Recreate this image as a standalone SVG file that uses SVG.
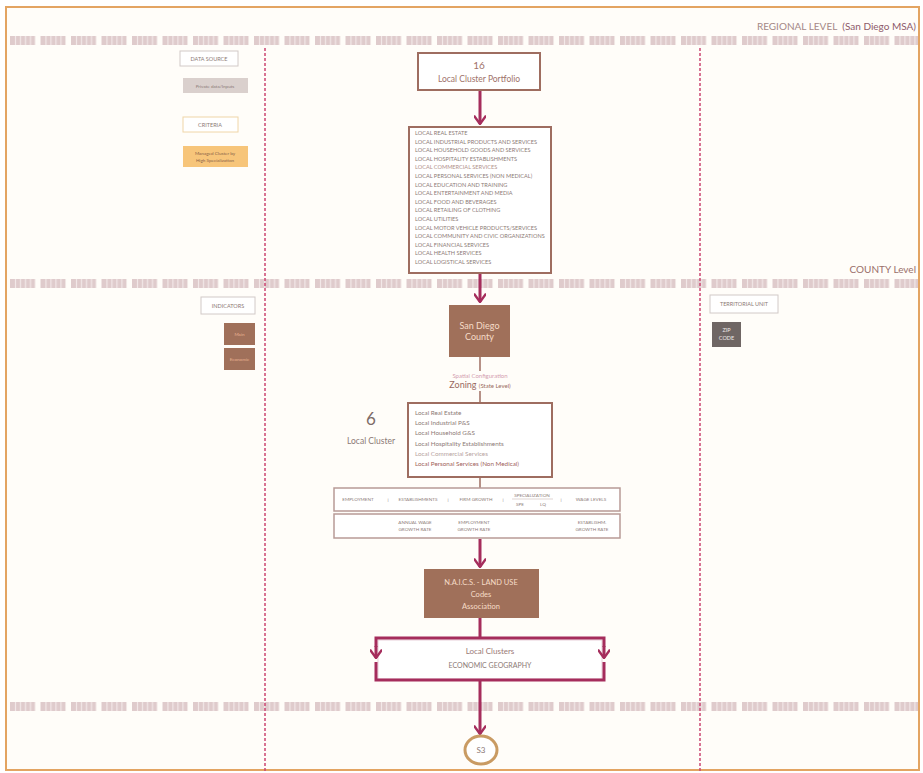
<svg xmlns="http://www.w3.org/2000/svg" width="923" height="773" viewBox="0 0 923 773">
<style>
text{font-family:Lato,"Liberation Sans",sans-serif;}
.lvl{font-size:10px;}
.tiny{font-size:4.6px;}
.lst{font-size:5.6px;fill:#8c7a76;}
.lst2{font-size:6.3px;fill:#8c7a76;}
.lgd{font-size:5.5px;fill:#8c7a76;}
.g{fill:#8c7a76;}
.wbox{fill:#fff;stroke:#d2cac8;stroke-width:1;}
.bbox{fill:#fff;stroke:#9e6d60;stroke-width:2;}
.brown{fill:#a0705a;}
.pe{fill:#f6dcc8;}
.vdash{stroke:#cc4672;stroke-width:1.5;stroke-dasharray:3 2;fill:none;}
.flow{stroke:#a52d5c;stroke-width:3;fill:none;}
.thin{stroke:#9e6d60;stroke-width:1.5;fill:none;}
</style>
<defs>
<pattern id="band" x="10" y="0" width="30.5" height="10" patternUnits="userSpaceOnUse">
<rect x="0" y="0" width="25" height="10" fill="#dfcbcc"/>
<rect x="5" y="0" width="1" height="10" fill="#f6eeee"/>
<rect x="10" y="0" width="1" height="10" fill="#f6eeee"/>
<rect x="15" y="0" width="1" height="10" fill="#f6eeee"/>
<rect x="20" y="0" width="1" height="10" fill="#f6eeee"/>
</pattern>
<marker id="ah" viewBox="0 0 10 10" refX="9" refY="5" markerWidth="4" markerHeight="4" orient="auto" markerUnits="strokeWidth">
<path d="M2,0 L9,5 L2,10" fill="none" stroke="#a52d5c" stroke-width="2"/>
</marker>
</defs>
<rect x="0" y="0" width="923" height="773" fill="#fff"/>
<rect x="6" y="7" width="913" height="763" fill="#fffdf9" stroke="#e3a462" stroke-width="2"/>

<g id="bands">
<rect x="10" y="36" width="908" height="9" fill="url(#band)"/>
<rect x="10" y="279" width="908" height="9" fill="url(#band)"/>
<rect x="10" y="702" width="908" height="9" fill="url(#band)"/>
</g>
<g id="levels">
<text class="lvl" x="916" y="30" text-anchor="end"><tspan fill="#a48886">REGIONAL LEVEL</tspan><tspan dx="5" fill="#8e5a6a">(San Diego MSA)</tspan></text>
<text class="lvl" x="916" y="273" text-anchor="end" style="fill:#9a6f6a">COUNTY Level</text>
</g>
<g id="dividers">
<line class="vdash" x1="265" y1="48" x2="265" y2="773"/>
<line class="vdash" x1="700" y1="48" x2="700" y2="773"/>
</g>

<g id="legend-datasource">
<rect class="wbox" x="180" y="51" width="58" height="15"/>
<text class="lgd" x="209" y="61" text-anchor="middle">DATA SOURCE</text>
</g>
<g id="legend-private">
<rect x="183" y="78" width="65" height="15" fill="#dad0cd"/>
<text class="tiny" x="215" y="87.5" text-anchor="middle" style="fill:#8a7a78">Private data/Inputs</text>
</g>
<g id="legend-criteria">
<rect x="183" y="117" width="55" height="15" fill="#fff" stroke="#f0d6a8" stroke-width="1"/>
<text class="lgd" x="210" y="127" text-anchor="middle">CRITERIA</text>
</g>
<g id="legend-managed">
<rect x="183" y="146" width="65" height="21" fill="#f7c57a"/>
<text class="tiny" x="215" y="155" text-anchor="middle" style="fill:#8a6248">Managed Cluster by</text>
<text class="tiny" x="215" y="162" text-anchor="middle" style="fill:#8a6248">High Specialization</text>
</g>
<g id="legend-indicators">
<rect class="wbox" x="201" y="297" width="54" height="17"/>
<text class="lgd" x="228" y="308" text-anchor="middle">INDICATORS</text>
</g>
<g id="legend-main">
<rect class="brown" x="224" y="323" width="31" height="22"/>
<text class="tiny" x="239.5" y="336" text-anchor="middle" style="fill:#eab092">Main</text>
</g>
<g id="legend-economic">
<rect class="brown" x="224" y="348" width="31" height="22"/>
<text class="tiny" x="239.5" y="361" text-anchor="middle" style="fill:#eab092">Economic</text>
</g>
<g id="legend-territorial">
<rect class="wbox" x="710" y="295" width="68" height="18"/>
<text class="lgd" x="744" y="306" text-anchor="middle">TERRITORIAL UNIT</text>
</g>
<g id="legend-zip">
<rect x="712" y="322" width="29" height="25" fill="#6f6664"/>
<text class="tiny" x="726.5" y="332" text-anchor="middle" style="fill:#f0eaea;font-size:5.5px">ZIP</text>
<text class="tiny" x="726.5" y="340" text-anchor="middle" style="fill:#f0eaea;font-size:5.5px">CODE</text>
</g>

<g id="connectors">
<line class="flow" x1="480" y1="90" x2="480" y2="124" marker-end="url(#ah)"/>
<line class="flow" x1="480" y1="273" x2="480" y2="302" marker-end="url(#ah)"/>
<line class="thin" x1="480" y1="357" x2="480" y2="371"/>
<line class="thin" x1="480" y1="391" x2="480" y2="403"/>
<line class="thin" x1="480" y1="477" x2="480" y2="488"/>
<line class="flow" x1="480" y1="539" x2="480" y2="567" marker-end="url(#ah)"/>
<line class="flow" x1="480" y1="618" x2="480" y2="638"/>
<line class="flow" x1="480" y1="681" x2="480" y2="734" marker-end="url(#ah)"/>
</g>

<g id="portfolio">
<rect class="bbox" x="418" y="53" width="122" height="37"/>
<text x="479" y="69" text-anchor="middle" font-size="10" fill="#a0726a">16</text>
<text x="479" y="82" text-anchor="middle" font-size="8.5" fill="#a0726a">Local Cluster Portfolio</text>
</g>

<g id="cluster-list">
<rect class="bbox" x="409" y="127" width="142" height="146"/>
<text class="lst" x="415">
<tspan x="415" y="135">LOCAL REAL ESTATE</tspan>
<tspan x="415" y="143.6">LOCAL INDUSTRIAL PRODUCTS AND SERVICES</tspan>
<tspan x="415" y="152.2">LOCAL HOUSEHOLD GOODS AND SERVICES</tspan>
<tspan x="415" y="160.8">LOCAL HOSPITALITY ESTABLISHMENTS</tspan>
<tspan x="415" y="169.4" fill="#b0908a">LOCAL COMMERCIAL SERVICES</tspan>
<tspan x="415" y="178">LOCAL PERSONAL SERVICES (NON MEDICAL)</tspan>
<tspan x="415" y="186.6">LOCAL EDUCATION AND TRAINING</tspan>
<tspan x="415" y="195.2">LOCAL ENTERTAINMENT AND MEDIA</tspan>
<tspan x="415" y="203.8">LOCAL FOOD AND BEVERAGES</tspan>
<tspan x="415" y="212.4">LOCAL RETAILING OF CLOTHING</tspan>
<tspan x="415" y="221">LOCAL UTILITIES</tspan>
<tspan x="415" y="229.6">LOCAL MOTOR VEHICLE PRODUCTS/SERVICES</tspan>
<tspan x="415" y="238.2">LOCAL COMMUNITY AND CIVIC ORGANIZATIONS</tspan>
<tspan x="415" y="246.8">LOCAL FINANCIAL SERVICES</tspan>
<tspan x="415" y="255.4">LOCAL HEALTH SERVICES</tspan>
<tspan x="415" y="264">LOCAL LOGISTICAL SERVICES</tspan>
</text>
</g>

<g id="county">
<rect class="brown" x="449" y="305" width="61" height="52"/>
<text x="479.5" y="329" text-anchor="middle" font-size="9" class="pe">San Diego</text>
<text x="479.5" y="340" text-anchor="middle" font-size="9" class="pe">County</text>
</g>

<g id="zoning">
<text x="480" y="378" text-anchor="middle" font-size="6" fill="#d4a0b0">Spatial Configuration</text>
<text x="480" y="388" text-anchor="middle" font-size="9" fill="#9a6a60">Zoning <tspan font-size="6">(State Level)</tspan></text>
</g>

<g id="six-label">
<text x="371" y="425" text-anchor="middle" font-size="17" fill="#7d6b68">6</text>
<text x="371" y="444" text-anchor="middle" font-size="8.5" fill="#8c7a76">Local Cluster</text>
</g>

<g id="six-list">
<rect class="bbox" x="408" y="403" width="144" height="74"/>
<text class="lst2">
<tspan x="415" y="415">Local Real Estate</tspan>
<tspan x="415" y="425">Local Industrial P&amp;S</tspan>
<tspan x="415" y="435">Local Household G&amp;S</tspan>
<tspan x="415" y="446">Local Hospitality Establishments</tspan>
<tspan x="415" y="456" fill="#b7a3a0">Local Commercial Services</tspan>
<tspan x="415" y="466" fill="#a0625a">Local Personal Services (Non Medical)</tspan>
</text>
</g>

<g id="indicator-row">
<rect x="334" y="488" width="286" height="23" fill="#fff" stroke="#b89a96" stroke-width="1.5"/>
<text class="tiny g" x="358" y="501" text-anchor="middle">EMPLOYMENT</text>
<text class="tiny g" x="388" y="501" text-anchor="middle">|</text>
<text class="tiny g" x="418" y="501" text-anchor="middle">ESTABLISHMENTS</text>
<text class="tiny g" x="448" y="501" text-anchor="middle">|</text>
<text class="tiny g" x="476" y="501" text-anchor="middle">FIRM GROWTH</text>
<text class="tiny g" x="503" y="501" text-anchor="middle">|</text>
<text class="tiny g" x="532" y="497" text-anchor="middle">SPECIALIZATION</text>
<line x1="512" y1="499" x2="553" y2="499" stroke="#c9b8b5" stroke-width="0.6"/>
<text class="tiny g" x="520" y="506" text-anchor="middle">SPE</text>
<text class="tiny g" x="543" y="506" text-anchor="middle">LQ</text>
<text class="tiny g" x="561" y="501" text-anchor="middle">|</text>
<text class="tiny g" x="591" y="501" text-anchor="middle">WAGE LEVELS</text>
</g>
<g id="growth-row">
<rect x="334" y="514" width="286" height="24" fill="#fff" stroke="#b89a96" stroke-width="1.5"/>
<text class="tiny g" x="415" y="524" text-anchor="middle">ANNUAL WAGE</text>
<text class="tiny g" x="415" y="531" text-anchor="middle">GROWTH RATE</text>
<text class="tiny g" x="474" y="524" text-anchor="middle">EMPLOYMENT</text>
<text class="tiny g" x="474" y="531" text-anchor="middle">GROWTH RATE</text>
<text class="tiny g" x="592" y="524" text-anchor="middle">ESTABLISHM.</text>
<text class="tiny g" x="592" y="531" text-anchor="middle">GROWTH RATE</text>
</g>

<g id="naics">
<rect class="brown" x="424" y="569" width="115" height="49"/>
<text x="481" y="585" text-anchor="middle" font-size="7.5" class="pe">N.A.I.C.S. - LAND USE</text>
<text x="481" y="597" text-anchor="middle" font-size="7.5" class="pe">Codes</text>
<text x="481" y="609" text-anchor="middle" font-size="7.5" class="pe">Association</text>
</g>

<g id="economic-geography">
<rect x="378" y="640" width="224" height="39" fill="#fff" stroke="#e2c4cf" stroke-width="0.8"/>
<path class="flow" d="M376,647 V638 H604 V647" />
<path class="flow" d="M376,662 V680 H604 V662" />
<line class="flow" x1="376" y1="646" x2="376" y2="658" marker-end="url(#ah)"/>
<line class="flow" x1="604" y1="646" x2="604" y2="658" marker-end="url(#ah)"/>
<text x="490" y="654" text-anchor="middle" font-size="8" fill="#9a7a76">Local Clusters</text>
<text x="490" y="668" text-anchor="middle" font-size="7" fill="#8c7a76">ECONOMIC GEOGRAPHY</text>
</g>

<g id="s3">
<ellipse cx="481" cy="750" rx="16" ry="14" fill="#fff" stroke="#c99b63" stroke-width="3"/>
<text x="481" y="753" text-anchor="middle" font-size="8" fill="#8c7a76">S3</text>
</g>
</svg>
